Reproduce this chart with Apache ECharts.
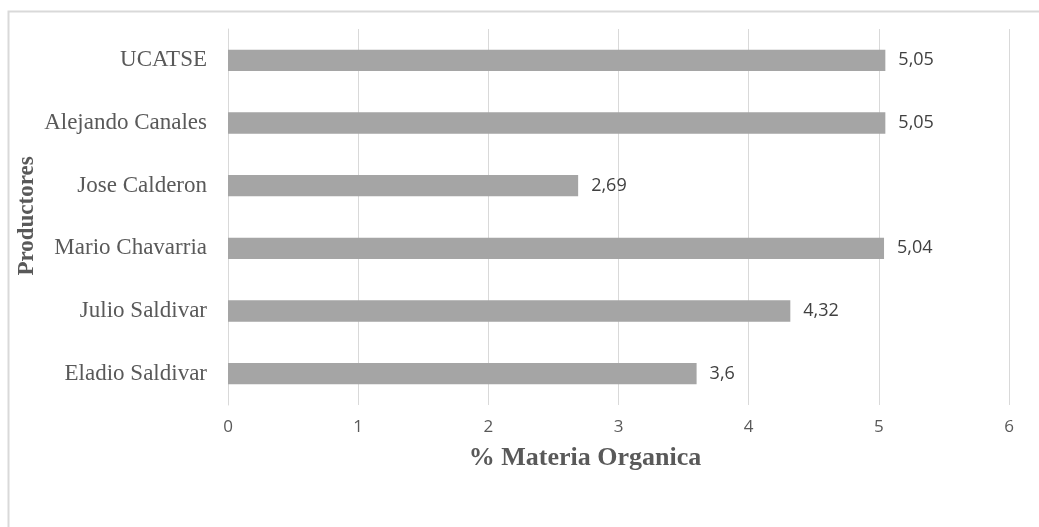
<!DOCTYPE html>
<html>
<head>
<meta charset="utf-8">
<script src="https://cdn.jsdelivr.net/npm/echarts@6/dist/echarts.min.js"></script>
<style>
  html, body { margin: 0; padding: 0; background: #ffffff; }
  #chart { width: 1039px; height: 527px; }
</style>
</head>
<body>
<div id="chart"></div>
<script>
// Producers, listed bottom to top as drawn on the category axis
const productores = ['Eladio Saldivar', 'Julio Saldivar', 'Mario Chavarria', 'Jose Calderon', 'Alejando Canales', 'UCATSE'];
// Organic matter (%) for each producer
const materiaOrganica = [3.6, 4.32, 5.04, 2.69, 5.05, 5.05];
// Value axis ticks
const xTicks = [0, 1, 2, 3, 4, 5, 6];

const serif = '"Liberation Serif", "DejaVu Serif", serif';
const sans = '"Open Sans", "Noto Sans", sans-serif';

const chart = echarts.init(document.getElementById('chart'), null, { renderer: 'canvas' });
chart.setOption({
  backgroundColor: '#ffffff',
  animation: false,
  graphic: [
    {
      type: 'rect',
      shape: { x: 8.5, y: 11.5, width: 1200, height: 700 },
      style: { fill: 'none', stroke: '#d9d9d9', lineWidth: 2 },
      silent: true
    },
    {
      type: 'text',
      x: 585, y: 458,
      style: {
        text: '% Materia Organica', fill: '#595959',
        font: 'bold 26px ' + serif, textAlign: 'center', textVerticalAlign: 'middle'
      }
    },
    {
      type: 'text',
      x: 27, y: 216, rotation: Math.PI / 2,
      style: {
        text: 'Productores', fill: '#595959',
        font: 'bold 23px ' + serif, textAlign: 'center', textVerticalAlign: 'middle'
      }
    }
  ],
  grid: { left: 228, right: 30, top: 29, bottom: 122, containLabel: false },
  xAxis: {
    type: 'value',
    min: xTicks[0],
    max: xTicks[xTicks.length - 1],
    interval: 1,
    axisLine: { show: false },
    axisTick: { show: false },
    axisLabel: { fontFamily: sans, fontSize: 17, color: '#595959', margin: 14 },
    splitLine: { show: true, lineStyle: { color: '#d9d9d9', width: 1 } }
  },
  yAxis: {
    type: 'category',
    data: productores,
    axisLine: { show: true, lineStyle: { color: '#d9d9d9', width: 1 } },
    axisTick: { show: false },
    axisLabel: { fontFamily: serif, fontSize: 23, color: '#595959', margin: 21 },
    splitLine: { show: false }
  },
  series: [{
    type: 'bar',
    data: materiaOrganica,
    barWidth: '34%',
    itemStyle: { color: '#a5a5a5' },
    label: {
      show: true,
      position: 'right',
      distance: 13,
      fontFamily: sans,
      fontSize: 18,
      color: '#404040',
      formatter: p => String(p.value).replace('.', ',')
    }
  }]
});
</script>
</body>
</html>
